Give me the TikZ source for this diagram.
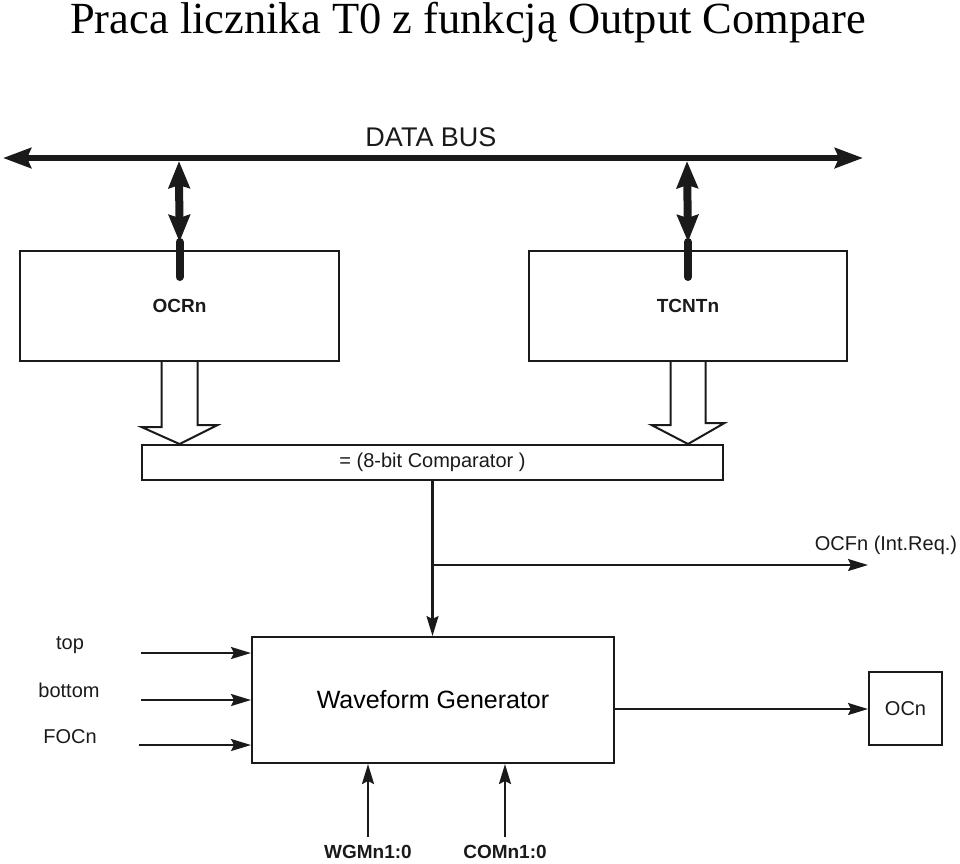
\documentclass[tikz,border=0pt]{standalone}
\usepackage{fontspec}
\setmainfont{Liberation Serif}
\setsansfont{Liberation Sans}
\usetikzlibrary{arrows.meta}
\definecolor{ocblack}{HTML}{1A1A1A}

\begin{document}
\begin{tikzpicture}[x=1pt,y=-1pt, %1 unit = 1 pixel of the original figure, y grows downwards
  blk/.style={draw=ocblack,line width=2pt,rectangle,inner sep=0pt},
  sig/.style={draw=ocblack,line width=2.2pt,-{Stealth[length=20pt,width=12pt,inset=3pt]}},
  bus/.style={draw=ocblack,line width=6pt,{Stealth[length=28pt,width=20pt,inset=4pt]}-{Stealth[length=28pt,width=20pt,inset=4pt]}},
  vbus/.style={draw=ocblack,line width=8pt},
  vbusarr/.style={vbus,{Stealth[length=27pt,width=21pt,inset=3pt]}-{Stealth[length=27pt,width=21pt,inset=3pt]}},
  wide/.style={draw=ocblack,line width=2pt,line join=miter},
  lbl/.style={font=\sffamily\fontsize{20}{24}\selectfont,text=ocblack},
  blbl/.style={font=\sffamily\bfseries\fontsize{19}{23}\selectfont,text=ocblack}]
\useasboundingbox (0,0) rectangle (960,863); %Keeps the margins of the original
\node[anchor=base,font=\fontsize{44.5}{50}\selectfont] (title) at (468,33) {Praca licznika T0 z funkcją Output Compare}; %Title
% blocks
\node[blk,minimum width=319pt,minimum height=110pt,blbl] (ocr) at (179.5,306) {OCRn};
\node[blk,minimum width=318pt,minimum height=110pt,blbl] (tcnt) at (688,306) {TCNTn};
\node[blk,minimum width=581pt,minimum height=35pt,lbl] (cmp) at (432.5,462.5) {= (8-bit Comparator )};
\node[blk,minimum width=362pt,minimum height=126pt,font=\sffamily\fontsize{25}{30}\selectfont] (wfg) at (433,700) {Waveform Generator};
\node[blk,minimum width=73pt,minimum height=73pt,lbl] (ocn) at (905.5,708.5) {OCn};
% data bus
\coordinate (busl) at (3,158);
\coordinate (busr) at (863,158);
\draw[bus] (busl) -- (busr); %Bus with both ends open
\node[font=\sffamily\fontsize{27}{32}\selectfont,text=ocblack] (buslbl) at (431,137) {DATA BUS};
\coordinate (ocrbus) at (179,161);
\coordinate (tcntbus) at (687,161);
\draw[vbusarr] (ocrbus) -- ([yshift=8pt]ocr.north); %OCRn read/write
\draw[vbus,line cap=round] ([yshift=8pt]ocr.north) -- ([yshift=-27pt]ocr.north);
\draw[vbusarr] (tcntbus) -- ([yshift=8pt]tcnt.north); %TCNTn read/write
\draw[vbus,line cap=round] ([yshift=8pt]tcnt.north) -- ([yshift=-27pt]tcnt.north);
% wide arrows into the comparator
\draw[wide] ([xshift=-18pt]ocr.south) -- ++(0,65) -- ++(-20,0) -- (ocr.south |- cmp.north) -- ++(38,-19) -- ++(-20,0) -- ([xshift=18pt]ocr.south);
\draw[wide] ([xshift=-17.5pt]tcnt.south) -- ++(0,63) -- ++(-19,0) -- (tcnt.south |- cmp.north) -- ++(36.5,-21) -- ++(-19,0) -- ([xshift=17.5pt]tcnt.south);
% compare match
\coordinate (ocf) at (868,565);
\draw[sig] (cmp.south) -- (cmp.south |- wfg.north);
\draw[sig] (cmp.south |- ocf) -- (ocf);
\node[lbl] (ocflbl) at (886,545) {OCFn (Int.Req.)};
% inputs of the waveform generator
\node[lbl] (top) at (70,645) {top};
\node[lbl] (bottom) at (69,690) {bottom};
\node[lbl] (focn) at (70,737) {FOCn};
\coordinate (topin) at (141,653);
\coordinate (botin) at (141,700);
\coordinate (focin) at (139,745);
\draw[sig] (topin) -- (topin -| wfg.west);
\draw[sig] (botin) -- (botin -| wfg.west);
\draw[sig] (focin) -- (focin -| wfg.west);
\node[blbl] (wgm) at (368,852) {WGMn1:0};
\node[blbl] (com) at (505,852) {COMn1:0};
\coordinate (wgmin) at (368,837);
\coordinate (comin) at (505,837);
\draw[sig] (wgmin) -- (wgmin |- wfg.south);
\draw[sig] (comin) -- (comin |- wfg.south);
% output pin
\coordinate (wfout) at ([yshift=-9pt]wfg.east);
\draw[sig] (wfout) -- (wfout -| ocn.west);
\end{tikzpicture}
\end{document}
